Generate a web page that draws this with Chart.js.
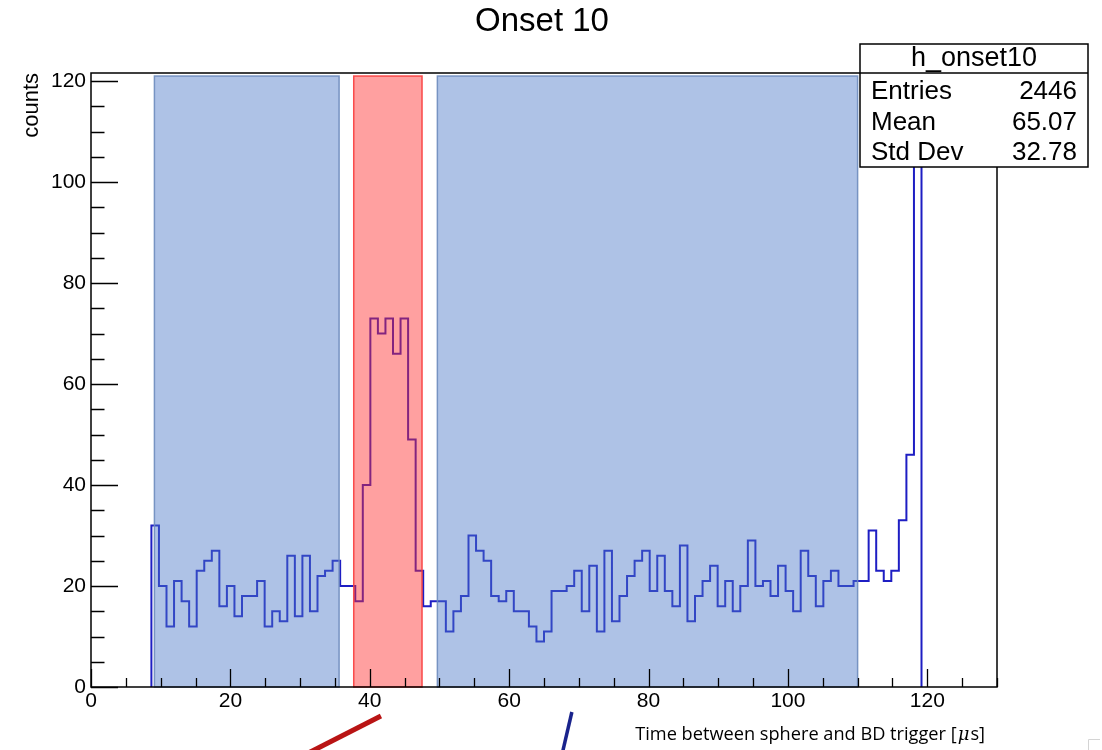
<!DOCTYPE html>
<html>
<head>
<meta charset="utf-8">
<script src="https://cdn.jsdelivr.net/npm/chart.js@4.4.1/dist/chart.umd.min.js"></script>
<style>
  body { margin: 0; background: #fff; }
  #chart_onset { display: block; }
</style>
</head>
<body>
<canvas id="chart_onset" width="1102" height="750"></canvas>
<script>
// histogram binning: 120 bins over 0..130, filled from bin 8 onwards
const xMin = 0;
const xMax = 130;
const nBins = 120;
const firstBin = 8;

// counts per bin, starting at firstBin
const counts = [
    32, 20, 12, 21, 17, 12, 23, 25, 27, 16, 20, 14, 18, 18, 21, 12, 15, 13, 26, 14,
    26, 15, 22, 23, 25, 20, 20, 17, 40, 73, 70, 73, 66, 73, 49, 23, 16, 17, 17, 11,
    15, 18, 30, 27, 25, 18, 17, 19, 15, 15, 12, 9, 11, 19, 19, 20, 23, 15, 24, 11,
    27, 13, 18, 22, 25, 27, 19, 26, 19, 16, 28, 13, 18, 21, 24, 16, 21, 15, 20, 29,
    20, 21, 18, 24, 19, 15, 27, 22, 16, 21, 23, 20, 20, 21, 21, 31, 23, 21, 23, 33,
    46, 110
];

// shaded time windows
const regionStart = [9.1, 37.7, 49.7];
const regionEnd = [35.6, 47.5, 110];
const regionTop = 121;
const regionKind = ['side', 'signal', 'side'];

const yMax = 121.6;

const statsTitle = 'h_onset10';
const statsLabels = ['Entries', 'Mean', 'Std Dev'];
const statsValues = ['2446', '65.07', '32.78'];

const FONT = '"Liberation Sans", Arial, Helvetica, sans-serif';

// build step outline of the histogram (each point is a bin's left edge)
function histPoints() {
    const w = (xMax - xMin) / nBins;
    const pts = [{ x: xMin + firstBin * w, y: 0 }];
    counts.forEach((c, i) => pts.push({ x: xMin + (firstBin + i) * w, y: c }));
    const end = xMin + (firstBin + counts.length) * w;
    pts.push({ x: end, y: counts[counts.length - 1] });
    pts.push({ x: end, y: 0 });
    return pts;
}

const rootStyle = {
    id: 'rootStyle',
    afterDatasetsDraw(chart) {
        const c = chart.ctx, xs = chart.scales.x, ys = chart.scales.y;
        c.save();
        regionStart.forEach((s, i) => {
            const x0 = xs.getPixelForValue(s), x1 = xs.getPixelForValue(regionEnd[i]);
            const y0 = ys.getPixelForValue(0), y1 = ys.getPixelForValue(regionTop);
            const sig = regionKind[i] === 'signal';
            c.fillStyle = sig ? 'rgba(255,44,44,0.45)' : 'rgba(75,119,199,0.45)';
            c.fillRect(x0, y1, x1 - x0, y0 - y1);
            c.lineWidth = 1.5;
            c.strokeStyle = sig ? 'rgba(250,60,60,0.9)' : 'rgba(110,140,190,0.9)';
            c.strokeRect(x0, y1, x1 - x0, y0 - y1);
        });
        c.restore();
    },
    afterDraw(chart) {
        const c = chart.ctx, a = chart.chartArea, xs = chart.scales.x, ys = chart.scales.y;
        c.save();

        // frame and inward ticks
        c.strokeStyle = '#000';
        c.lineWidth = 1.5;
        c.strokeRect(a.left, a.top, a.right - a.left, a.bottom - a.top);
        c.lineWidth = 1.3;
        c.beginPath();
        for (let v = 0; v <= 120; v += 5) {
            const py = Math.round(ys.getPixelForValue(v)) + 0.5;
            const len = v % 20 === 0 ? 27 : 13.5;
            c.moveTo(a.left, py);
            c.lineTo(a.left + len, py);
        }
        for (let v = 0; v <= xMax; v += 5) {
            const px = Math.round(xs.getPixelForValue(v)) + 0.5;
            const len = v % 20 === 0 ? 18 : 9;
            c.moveTo(px, a.bottom);
            c.lineTo(px, a.bottom - len);
        }
        c.stroke();

        // title
        c.fillStyle = '#000';
        c.font = '33px ' + FONT;
        c.textAlign = 'center';
        c.textBaseline = 'middle';
        c.fillText('Onset 10', 542, 22);

        // y axis title
        c.save();
        c.translate(32, a.top);
        c.rotate(-Math.PI / 2);
        c.font = '22px ' + FONT;
        c.textAlign = 'right';
        c.textBaseline = 'middle';
        c.fillText('counts', 0, 0);
        c.restore();

        // x axis title
        const tf = '18.2px "Open Sans", "Noto Sans", sans-serif';
        c.font = tf;
        c.textAlign = 'right';
        c.textBaseline = 'middle';
        const tail = 's]';
        const tailW = c.measureText(tail).width;
        c.fillText(tail, 985, 735);
        c.font = 'italic 18px "DejaVu Serif", serif';
        const muW = c.measureText('\u03BC').width;
        c.fillText('\u03BC', 985 - tailW - 1, 735);
        c.font = tf;
        c.fillText('Time between sphere and BD trigger [', 985 - tailW - muW - 2, 735);

        // pointer strokes below the axis
        c.lineCap = 'butt';
        c.strokeStyle = 'rgb(185,20,20)';
        c.lineWidth = 5;
        c.beginPath();
        c.moveTo(xs.getPixelForValue(41.6), 716);
        c.lineTo(xs.getPixelForValue(30.9), 754);
        c.stroke();
        c.strokeStyle = 'rgb(25,35,140)';
        c.lineWidth = 3.5;
        c.beginPath();
        c.moveTo(xs.getPixelForValue(69.0), 712);
        c.lineTo(xs.getPixelForValue(67.6), 754);
        c.stroke();

        // small corner mark
        c.strokeStyle = '#d4d4d4';
        c.lineWidth = 1;
        c.beginPath();
        c.moveTo(1088.5, 750);
        c.lineTo(1088.5, 739.5);
        c.lineTo(1100, 739.5);
        c.stroke();

        // stats box
        const bx = 860, by = 44, bw = 228, bh = 123;
        c.fillStyle = '#fff';
        c.fillRect(bx, by, bw, bh);
        c.strokeStyle = '#000';
        c.lineWidth = 1.5;
        c.strokeRect(bx, by, bw, bh);
        c.beginPath();
        c.moveTo(bx, by + 29);
        c.lineTo(bx + bw, by + 29);
        c.stroke();
        c.fillStyle = '#000';
        c.font = '27px ' + FONT;
        c.textAlign = 'center';
        c.fillText(statsTitle, bx + bw / 2, by + 15);
        c.font = '26px ' + FONT;
        statsLabels.forEach((lab, i) => {
            const ty = by + 48 + i * 30.5;
            c.textAlign = 'left';
            c.fillText(lab, bx + 11, ty);
            c.textAlign = 'right';
            c.fillText(statsValues[i], bx + bw - 11, ty);
        });

        c.restore();
    }
};

new Chart(document.getElementById('chart_onset'), {
    type: 'line',
    data: {
        datasets: [{
            data: histPoints(),
            stepped: 'before',
            borderColor: 'rgb(30,30,195)',
            borderWidth: 2,
            pointRadius: 0,
            fill: false
        }]
    },
    options: {
        responsive: false,
        animation: false,
        layout: { padding: { top: 73, right: 105, bottom: 0, left: 0 } },
        plugins: {
            legend: { display: false },
            title: { display: false },
            tooltip: { enabled: false }
        },
        scales: {
            x: {
                type: 'linear',
                min: xMin,
                max: xMax,
                border: { display: false },
                grid: { display: false, drawTicks: false },
                afterFit: s => { s.height = 63; },
                ticks: {
                    stepSize: 20,
                    includeBounds: false,
                    maxRotation: 0,
                    padding: 2,
                    color: '#000',
                    font: { family: FONT, size: 21 }
                }
            },
            y: {
                min: 0,
                max: yMax,
                border: { display: false },
                grid: { display: false, drawTicks: false },
                afterFit: s => { s.width = 91; },
                ticks: {
                    stepSize: 20,
                    includeBounds: false,
                    padding: 5,
                    color: '#000',
                    font: { family: FONT, size: 21 }
                }
            }
        }
    },
    plugins: [rootStyle]
});
</script>
</body>
</html>
